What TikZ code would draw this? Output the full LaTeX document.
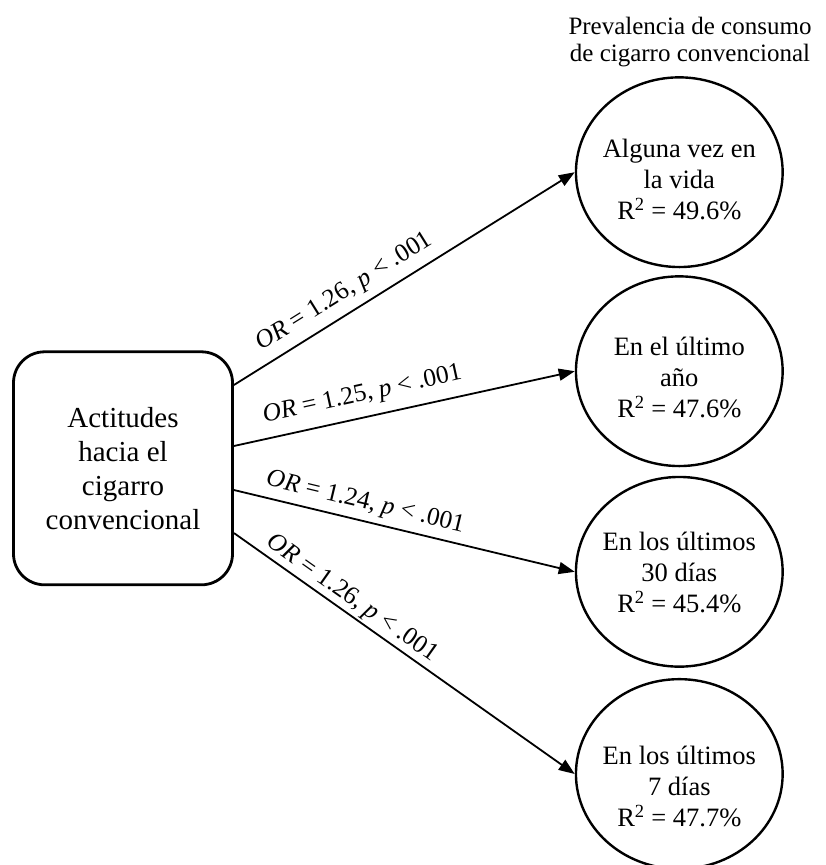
\documentclass[tikz,border=0pt]{standalone}
\usepackage{fontspec}
\setmainfont{Liberation Serif}
\usetikzlibrary{arrows.meta,shapes.geometric}
\begin{document}
\begin{tikzpicture}[x=1pt,y=-1pt,
  source/.style={draw, line width=2.8pt, rounded corners=31pt,
    minimum width=219pt, minimum height=233pt, inner sep=0pt,
    align=center, font=\fontsize{29}{34}\selectfont},
  outcome/.style={draw, ellipse, line width=2.4pt,
    minimum width=206.7pt, minimum height=189.7pt, inner sep=0pt},
  outtext/.style={align=center, inner sep=0pt,
    font=\fontsize{26.5}{31}\selectfont},
  heading/.style={align=center, inner sep=0pt,
    font=\fontsize{25}{27.5}\selectfont},
  link/.style={line width=1.8pt, -{Triangle[length=16pt,width=12pt]}},
  coef/.style={sloped, inner sep=0pt, font=\fontsize{25.5}{28}\selectfont},
]
\useasboundingbox (0,0) rectangle (825,865);

% predictor
\node[source] (att) at (123,468.3) {Actitudes\\hacia el\\cigarro\\convencional};

% outcomes
\node[outcome] (o1) at (679.3,172.2) {};
\node[outcome] (o2) at (679.3,371.2) {};
\node[outcome] (o3) at (679.3,571.8) {};
\node[outcome] (o4) at (679.3,774) {};

\node[outtext] (t1) at ([yshift=-7.4pt]o1.center) {Alguna vez en\\la vida\\R\textsuperscript{2} = 49.6\%};
\node[outtext] (t2) at ([yshift=-6.7pt]o2.center) {En el último\\año\\R\textsuperscript{2} = 47.6\%};
\node[outtext] (t3) at ([yshift=-1pt]o3.center) {En los últimos\\30 días\\R\textsuperscript{2} = 45.4\%};
\node[outtext] (t4) at ([yshift=-12.6pt]o4.center) {En los últimos\\7 días\\R\textsuperscript{2} = 47.7\%};

\node[heading] (head) at (690,42) {Prevalencia de consumo\\de cigarro convencional};

% paths with odds ratios
\draw[link] ([yshift=83.3pt]att.east) -- (o1.west)
  node[coef, pos=0.356, above=8pt] {\textit{OR} = 1.26, \textit{p} < .001};
\draw[link] ([yshift=22.3pt]att.east) -- (o2.west)
  node[coef, pos=0.391, above=10pt] {\textit{OR} = 1.25, \textit{p} < .001};
\draw[link] ([yshift=-21.7pt]att.east) -- (o3.west)
  node[coef, pos=0.373, above=6pt] {\textit{OR} = 1.24, \textit{p} < .001};
\draw[link] ([yshift=-64.7pt]att.east) -- (o4.west)
  node[coef, pos=0.322, above=2.5pt] {\textit{OR} = 1.26, \textit{p} < .001};
\end{tikzpicture}
\end{document}
